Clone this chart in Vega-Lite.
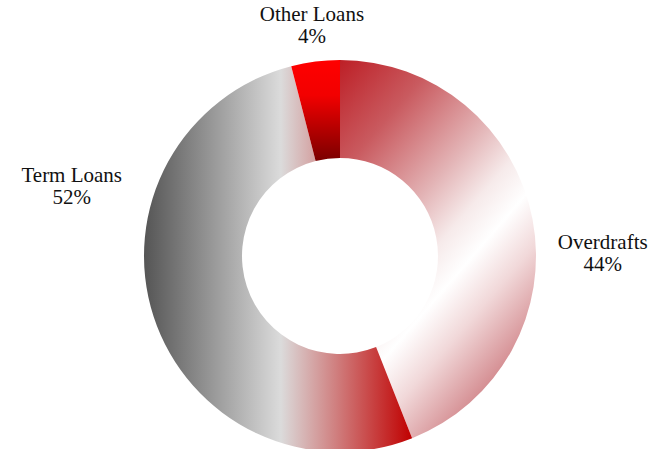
{
  "$schema": "https://vega.github.io/schema/vega-lite/v6.json",
  "width": 650,
  "height": 386,
  "autosize": "none",
  "padding": {"left": 15, "top": 63, "right": 0, "bottom": 0},
  "background": "white",
  "view": {"stroke": null},
  "data": {
    "values": [
      {"category": "Overdrafts", "share": 44, "label": "Overdrafts\n44%", "idx": 1},
      {"category": "Term Loans", "share": 52, "label": "Term Loans\n52%", "idx": 2},
      {"category": "Other Loans", "share": 4, "label": "Other Loans\n4%", "idx": 3}
    ]
  },
  "encoding": {
    "theta": {"field": "share", "type": "quantitative", "stack": true},
    "order": {"field": "idx", "type": "quantitative"}
  },
  "layer": [
    {
      "mark": {
        "type": "arc", "radius": 196, "radius2": 98,
        "fill": {"gradient": "linear", "x1": 0, "y1": 0, "x2": 0.6, "y2": 1,
          "stops": [
            {"offset": 0, "color": "#bd1f26"},
            {"offset": 0.22, "color": "#c95a5f"},
            {"offset": 0.45, "color": "#e3b4b6"},
            {"offset": 0.58, "color": "#f6eaea"},
            {"offset": 0.68, "color": "#ffffff"},
            {"offset": 0.8, "color": "#f1d8d9"},
            {"offset": 1, "color": "#cf7f84"}
          ]}
      },
      "encoding": {"opacity": {"condition": {"test": "datum.category === 'Overdrafts'", "value": 1}, "value": 0}}
    },
    {
      "mark": {
        "type": "arc", "radius": 196, "radius2": 98,
        "fill": {"gradient": "linear", "x1": 0, "y1": 0, "x2": 1, "y2": 0,
          "stops": [
            {"offset": 0, "color": "#555555"},
            {"offset": 0.51, "color": "#dbdbdb"},
            {"offset": 1, "color": "#c00000"}
          ]}
      },
      "encoding": {"opacity": {"condition": {"test": "datum.category === 'Term Loans'", "value": 1}, "value": 0}}
    },
    {
      "mark": {
        "type": "arc", "radius": 196, "radius2": 98,
        "fill": {"gradient": "linear", "x1": 0, "y1": 0, "x2": 0, "y2": 1,
          "stops": [
            {"offset": 0, "color": "#ff0000"},
            {"offset": 0.35, "color": "#f20000"},
            {"offset": 1, "color": "#7a0000"}
          ]}
      },
      "encoding": {"opacity": {"condition": {"test": "datum.category === 'Other Loans'", "value": 1}, "value": 0}}
    },
    {
      "mark": {"type": "text", "radius": 240, "dx": 27, "dy": 32, "font": "Liberation Serif", "fontSize": 21, "lineBreak": "\n", "lineHeight": 22, "align": "center", "baseline": "middle", "color": "#111111"},
      "encoding": {"text": {"condition": {"test": "datum.category === 'Overdrafts'", "field": "label", "type": "nominal"}, "value": ""}}
    },
    {
      "mark": {"type": "text", "radius": 240, "dx": -40, "dy": -154, "font": "Liberation Serif", "fontSize": 21, "lineBreak": "\n", "lineHeight": 22, "align": "center", "baseline": "middle", "color": "#111111"},
      "encoding": {"text": {"condition": {"test": "datum.category === 'Term Loans'", "field": "label", "type": "nominal"}, "value": ""}}
    },
    {
      "mark": {"type": "text", "radius": 240, "dx": 2, "dy": -3, "font": "Liberation Serif", "fontSize": 21, "lineBreak": "\n", "lineHeight": 22, "align": "center", "baseline": "middle", "color": "#111111"},
      "encoding": {"text": {"condition": {"test": "datum.category === 'Other Loans'", "field": "label", "type": "nominal"}, "value": ""}}
    }
  ]
}
